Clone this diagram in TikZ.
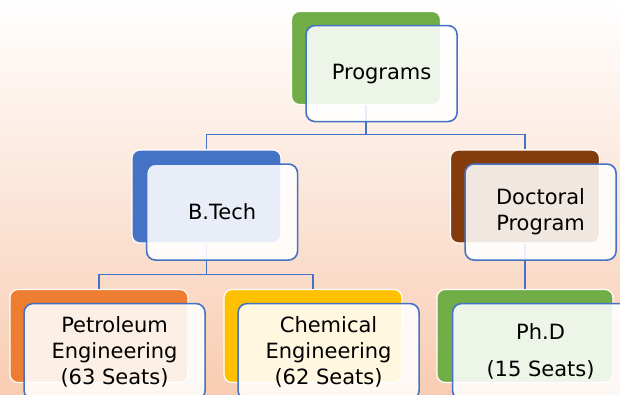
\documentclass[tikz,border=0pt]{standalone}
\usepackage{fontspec}
\setsansfont{DejaVu Sans}
\usetikzlibrary{positioning}
\definecolor{peach}{HTML}{F8CCB2}
\definecolor{peachmid}{HTML}{FCE8DD}
\definecolor{boxblue}{HTML}{4472C4}
\definecolor{boxgreen}{HTML}{70AD47}
\definecolor{boxbrown}{HTML}{843C0C}
\definecolor{boxorange}{HTML}{ED7D31}
\definecolor{boxyellow}{HTML}{FFC000}

\begin{document}
\begin{tikzpicture}[x=1pt, y=-1pt, node distance={22pt},
    back/.style={draw=white, line width=1.2pt, rounded corners=8pt,
      minimum width=149pt, minimum height=93pt, inner sep=0pt},
    front/.style={draw=boxblue, line width=1.6pt, rounded corners=9pt,
      fill=white, fill opacity=0.88, text opacity=1, inner sep=0pt,
      minimum width=151pt, minimum height=96pt, align=center,
      font=\sffamily\fontsize{21}{26}\selectfont},
    wide/.style={minimum width=178pt},
    link/.style={draw=boxblue, line width=1.6pt}]
    \useasboundingbox (0,0) rectangle (620,394);
    \clip (0,0) rectangle (620,394);
    \shade[top color=white, middle color=peachmid, bottom color=peach] (0,0) rectangle (620,394);
    % coloured boxes at the back
    \node[back, fill=boxgreen] (1) at (366,58) {};
    \node[back, fill=boxblue] (2) at (206.5,196.5) {};
    \node[back, fill=boxbrown] (3) at (525,196.5) {};
    \node[back, wide, fill=boxorange] (4) at (99,336) {};
    \node[back, wide, fill=boxyellow] (5) at (313,336) {};
    \node[back, wide, minimum width=176pt, fill=boxgreen] (6) at (525,336) {};
    % connectors
    \draw[link] (1.south) -- +(0,29.5) -| (2.north);
    \draw[link] (1.south) -- +(0,29.5) -| (3.north);
    \draw[link] (2.south) -- +(0,31) -| (4.north);
    \draw[link] (2.south) -- +(0,31) -| (5.north);
    \draw[link] (3.south) -- (6.north);
    % white boxes in front
    \node[front] (7) [below right of=1] {Programs};
    \node[front] (8) [below right of=2] {B.Tech};
    \node[front] (9) [below right of=3] {Doctoral\\Program};
    \node[front, minimum width=181pt] (10) [below right of=4] {Petroleum\\Engineering\\(63 Seats)};
    \node[front, minimum width=181pt] (11) [below right of=5] {Chemical\\Engineering\\(62 Seats)};
    \node[front, minimum width=176pt] (12) [below right of=6] {Ph.D\\[11pt](15 Seats)};
\end{tikzpicture}
\end{document}
